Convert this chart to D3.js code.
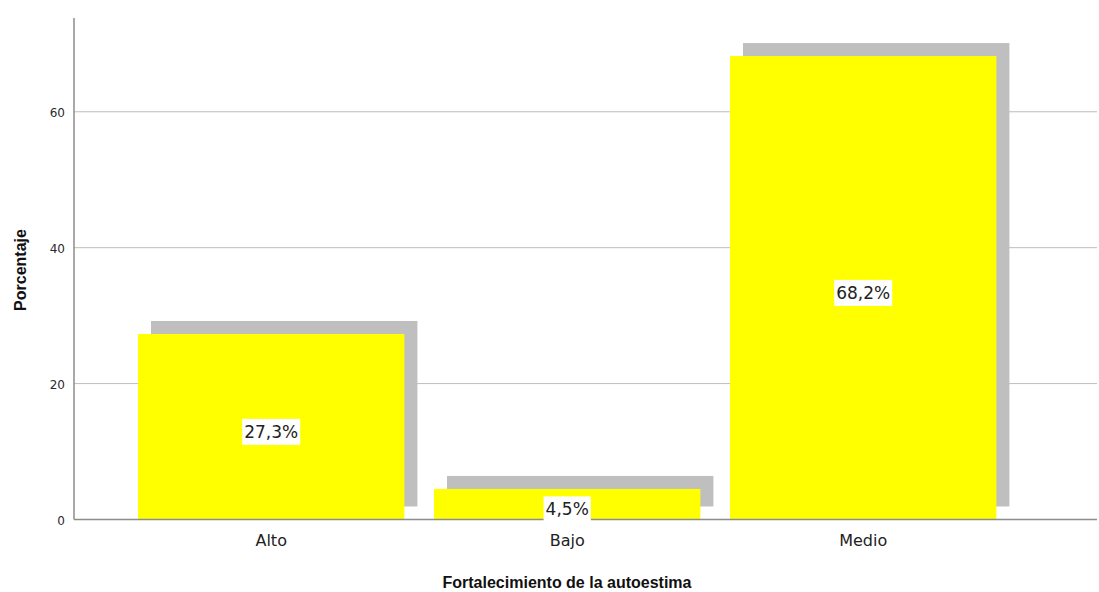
<!DOCTYPE html>
<html><head><meta charset="utf-8">
<script src="https://cdn.jsdelivr.net/npm/d3@7"></script>
<style>body{margin:0;background:#fff}svg{display:block;font-family:Arial,"Liberation Sans",sans-serif}</style>
</head><body>
<svg id="c" width="1099" height="592"></svg>
<script>
const categories = ["Alto", "Bajo", "Medio"];
const values = [27.3, 4.5, 68.2];
const valueLabels = ["27,3%", "4,5%", "68,2%"];
const yTicks = [0, 20, 40, 60];

(function() {
const svg = d3.select("#c");
const mLeft = 74, mRight = 1097, mTop = 18, mBottom = 519.5;
const y = d3.scaleLinear().domain([0, 73.8]).range([mBottom, mTop]);
const x = d3.scaleBand().domain(categories).range([123.2, 1011.2]).paddingInner(0.1).paddingOuter(0.05);

svg.append("g").selectAll("line").data(yTicks.filter(d => d > 0)).join("line")
  .attr("x1", mLeft).attr("x2", mRight)
  .attr("y1", d => y(d)).attr("y2", d => y(d))
  .attr("stroke", "#bdbdbd").attr("stroke-width", 1);

const data = categories.map((c, i) => ({c, v: values[i], l: valueLabels[i]}));
const off = 13;
svg.append("g").selectAll("rect").data(data).join("rect")
  .attr("x", d => x(d.c) + off).attr("y", d => y(d.v) - off)
  .attr("width", x.bandwidth()).attr("height", d => mBottom - y(d.v))
  .attr("fill", "#bfbfbf");
svg.append("g").selectAll("rect").data(data).join("rect")
  .attr("x", d => x(d.c)).attr("y", d => y(d.v))
  .attr("width", x.bandwidth()).attr("height", d => mBottom - y(d.v))
  .attr("fill", "#ffff00");

const yAxis = d3.axisLeft(y).tickValues(yTicks).tickSize(0).tickPadding(9);
const ga = svg.append("g").attr("transform", `translate(${mLeft},0)`).call(yAxis);
ga.select(".domain").remove();
ga.selectAll("text").attr("font-size", 12).attr("fill", "#2a2a2a").attr("font-family", "'DejaVu Sans', Arial, sans-serif").attr("dy", "0.4em");
svg.append("line").attr("x1", mLeft).attr("x2", mLeft).attr("y1", mTop).attr("y2", mBottom)
  .attr("stroke", "#8c8c8c").attr("stroke-width", 1.5);
svg.append("line").attr("x1", mLeft).attr("x2", mRight).attr("y1", mBottom).attr("y2", mBottom)
  .attr("stroke", "#8c8c8c").attr("stroke-width", 1.5);

const xAxis = d3.axisBottom(x).tickSize(0).tickPadding(15);
const gx = svg.append("g").attr("transform", `translate(0,${mBottom})`).call(xAxis);
gx.select(".domain").remove();
gx.selectAll("text").attr("font-size", 16).attr("fill", "#222").attr("font-family", "'DejaVu Sans', Arial, sans-serif");

const lg = svg.append("g").selectAll("g").data(data).join("g")
  .attr("transform", d => `translate(${x(d.c) + x.bandwidth()/2},${(y(d.v) + mBottom)/2 + 5})`);
lg.append("text").text(d => d.l).attr("text-anchor", "middle").attr("dy", "0.36em")
  .attr("font-size", 17).attr("fill", "#222").attr("font-family", "'DejaVu Sans', Arial, sans-serif");
lg.each(function() {
  const g = d3.select(this);
  const bb = g.select("text").node().getBBox();
  g.insert("rect", "text").attr("x", bb.x - 2).attr("y", bb.y - 3).attr("width", bb.width + 4).attr("height", bb.height + 6).attr("fill", "#fff");
});

svg.append("text").attr("x", 567).attr("y", 588).attr("text-anchor", "middle")
  .attr("font-size", 16).attr("font-weight", "bold").attr("fill", "#111").text("Fortalecimiento de la autoestima");
svg.append("text").attr("transform", "translate(26,270) rotate(-90)").attr("text-anchor", "middle")
  .attr("font-size", 16).attr("font-weight", "bold").attr("fill", "#111").text("Porcentaje");
})();
</script>
</body></html>
